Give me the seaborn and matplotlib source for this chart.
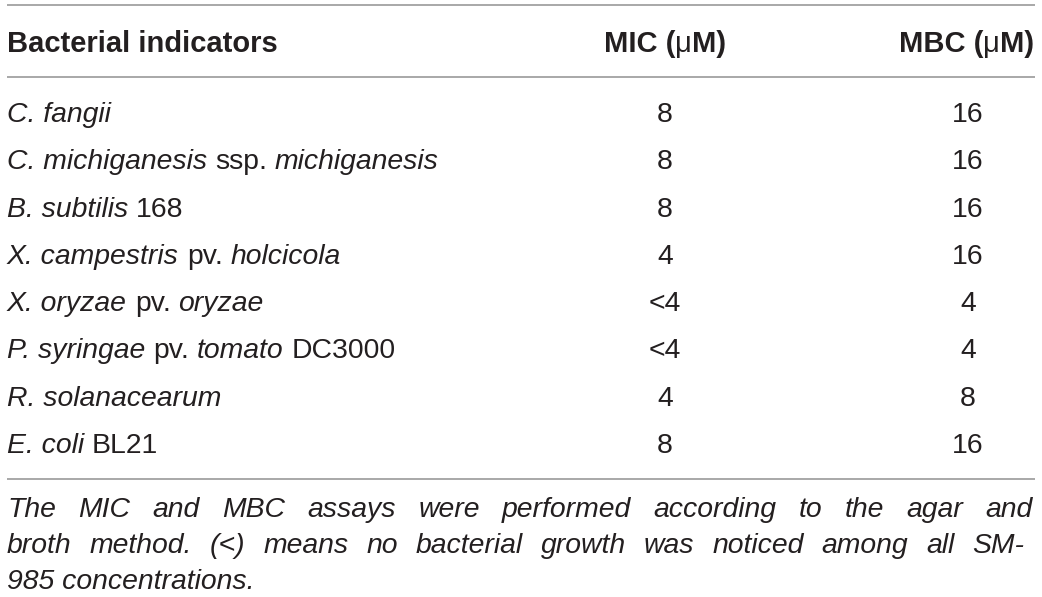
import seaborn as sns
import matplotlib.pyplot as plt

# Table content
species = [
    [("C. fangii", "italic")],
    [("C. michiganesis", "italic"), ("ssp.", "normal"), ("michiganesis", "italic")],
    [("B. subtilis", "italic"), ("168", "normal")],
    [("X. campestris", "italic"), ("pv.", "normal"), ("holcicola", "italic")],
    [("X. oryzae", "italic"), ("pv.", "normal"), ("oryzae", "italic")],
    [("P. syringae", "italic"), ("pv.", "normal"), ("tomato", "italic"), ("DC3000", "normal")],
    [("R. solanacearum", "italic")],
    [("E. coli", "italic"), ("BL21", "normal")],
]
mic = ["8", "8", "8", "4", "<4", "<4", "4", "8"]
mbc = ["16", "16", "16", "16", "4", "4", "8", "16"]
header_first = "Bacterial indicators"
header_mic = [("MIC (", "bold"), ("\u03bc", "normal"), ("M)", "bold")]
header_mbc = [("MBC (", "bold"), ("\u03bc", "normal"), ("M)", "bold")]
note_lines = [
    "The MIC and MBC assays were performed according to the agar and",
    "broth method. (<) means no bacterial growth was noticed among all SM-",
    "985 concentrations.",
]

sns.set_theme(style="white")
plt.rcParams['font.family'] = ['Liberation Sans', 'DejaVu Sans']

TXT = "#231f20"
RULE = "#9a9a9a"
FS = 20.4
FS_HEAD = 21

W, H = 1042, 597
fig = plt.figure(figsize=(W / 100, H / 100), dpi=100)
ax = fig.add_axes([0, 0, 1, 1])
ax.set_xlim(0, W)
ax.set_ylim(H, 0)
ax.axis("off")
renderer = fig.canvas.get_renderer()


def style_kw(style):
    if style == "italic":
        return dict(fontstyle="italic", fontweight="normal")
    if style == "bold":
        return dict(fontstyle="normal", fontweight="bold")
    return dict(fontstyle="normal", fontweight="normal")


def width_of(s, style, size=FS):
    t = ax.text(0, 0, s, fontsize=size, **style_kw(style))
    w = t.get_window_extent(renderer).width
    t.remove()
    return w


def space_w(style, size=FS):
    return width_of("x x", style, size) - width_of("xx", style, size)


def draw_pieces(x, y, pieces, sep=True, size=FS):
    # draw mixed-style text one piece after another
    for i, (s, style) in enumerate(pieces):
        t = ax.text(x, y, s, fontsize=size, color=TXT, va="baseline", ha="left", **style_kw(style))
        x += t.get_window_extent(renderer).width
        if sep and i < len(pieces) - 1:
            x += space_w("normal", size)
    return x


def pieces_width(pieces, size=FS):
    return sum(width_of(s, st, size) for s, st in pieces)


left, right = 7, 1034
mic_x, mbc_x = 665, 968
base0, step = 122, 47.3

# rules
for y in [5, 77, 479]:
    ax.plot([left, right + 1], [y, y], color=RULE, lw=1.2, solid_capstyle="butt")

# header
ax.text(left, 52, header_first, fontsize=FS_HEAD, fontweight="bold", color=TXT, va="baseline")
draw_pieces(mic_x - pieces_width(header_mic, FS_HEAD) / 2, 52, header_mic, sep=False, size=FS_HEAD)
draw_pieces(right - pieces_width(header_mbc, FS_HEAD), 52, header_mbc, sep=False, size=FS_HEAD)

# body rows
for i, row in enumerate(species):
    y = base0 + i * step
    draw_pieces(left, y, row)
    ax.text(mic_x, y, mic[i], fontsize=FS, color=TXT, ha="center", va="baseline")
    ax.text(mbc_x, y, mbc[i], fontsize=FS, color=TXT, ha="center", va="baseline")

# footnote, justified like the journal layout
note_base = [517, 553, 589]
note_right = [1033, 1024]
for j, line in enumerate(note_lines):
    y = note_base[j]
    words = line.split(" ")
    if j < len(note_lines) - 1:
        widths = [width_of(w, "italic") for w in words]
        gap = (note_right[j] - left - sum(widths)) / (len(words) - 1)
        x = left
        for w, wd in zip(words, widths):
            ax.text(x, y, w, fontsize=FS, fontstyle="italic", color=TXT, va="baseline")
            x += wd + gap
    else:
        ax.text(left, y, line, fontsize=FS, fontstyle="italic", color=TXT, va="baseline")

sns.despine(fig=fig, left=True, bottom=True)
fig.savefig("out.png", dpi=100, facecolor="white")
